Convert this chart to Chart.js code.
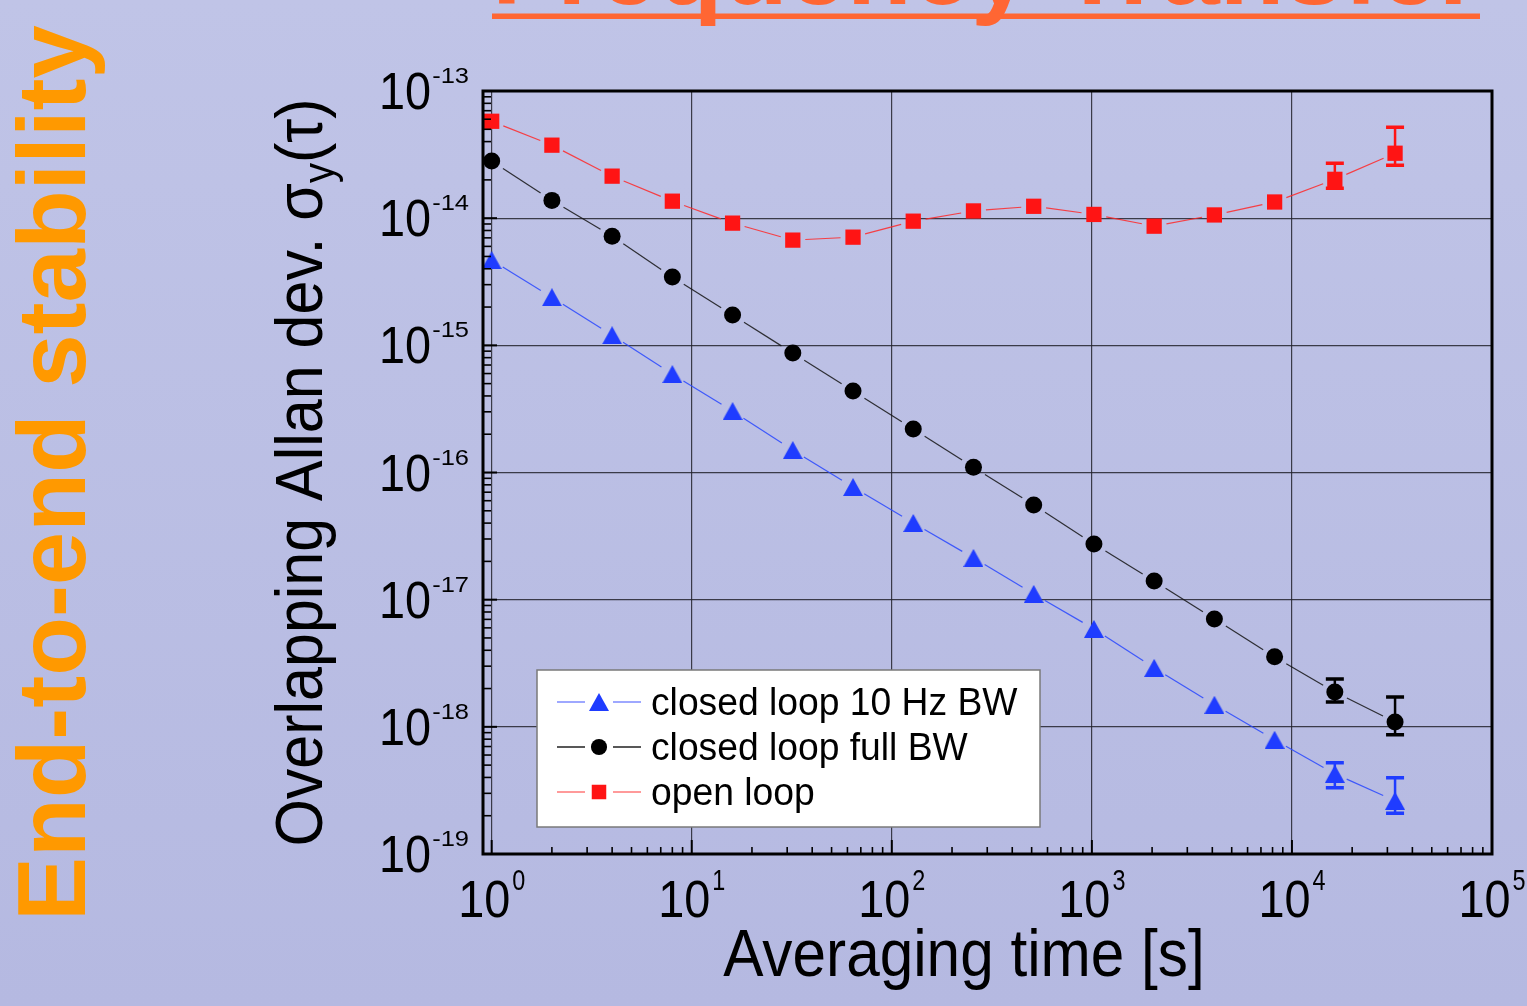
<!DOCTYPE html>
<html>
<head>
<meta charset="utf-8">
<title>Frequency Transfer - End-to-end stability</title>
<script src="https://cdn.jsdelivr.net/npm/chart.js@4.4.1/dist/chart.umd.min.js"></script>
<style>
  html, body { margin: 0; padding: 0; }
  body {
    width: 1527px; height: 1006px; overflow: hidden;
    background: linear-gradient(#c0c4e7, #b5b9e1);
  }
  #chart { position: absolute; left: 0; top: 0; }
</style>
</head>
<body>
<canvas id="chart" width="1527" height="1006"></canvas>
<script>
// averaging times [s]
const tau = [1, 2, 4, 8, 16, 32, 64, 128, 256, 512, 1024, 2048, 4096, 8192, 16384, 32768];

// overlapping Allan deviation
const closed10Hz = [4.68e-15, 2.39e-15, 1.20e-15, 5.94e-16, 3.04e-16, 1.50e-16, 7.69e-17, 4.01e-17,
  2.13e-17, 1.11e-17, 5.89e-18, 2.91e-18, 1.49e-18, 7.91e-19, 4.27e-19, 2.62e-19];
const closedFull = [2.81e-14, 1.38e-14, 7.22e-15, 3.44e-15, 1.73e-15, 8.69e-16, 4.37e-16, 2.20e-16,
  1.10e-16, 5.56e-17, 2.74e-17, 1.40e-17, 7.06e-18, 3.55e-18, 1.88e-18, 1.09e-18];
const openLoop = [5.78e-14, 3.75e-14, 2.14e-14, 1.36e-14, 9.14e-15, 6.72e-15, 7.09e-15, 9.47e-15,
  1.14e-14, 1.24e-14, 1.07e-14, 8.65e-15, 1.06e-14, 1.34e-14, 2.02e-14, 3.24e-14];

// error bars only on the two longest averaging times
const errTau = [16384, 32768];
const closed10HzLow = [3.32e-19, 2.09e-19];
const closed10HzHigh = [5.21e-19, 3.98e-19];
const closedFullLow = [1.57e-18, 8.65e-19];
const closedFullHigh = [2.38e-18, 1.72e-18];
const openLoopLow = [1.72e-14, 2.61e-14];
const openLoopHigh = [2.70e-14, 5.19e-14];

const seriesNames = ['closed loop 10 Hz BW', 'closed loop full BW', 'open loop'];

// tick decades (exponents of ten)
const xDecades = [0, 1, 2, 3, 4, 5];
const yDecades = [-19, -18, -17, -16, -15, -14, -13];

const FONT = '"Liberation Sans", Arial, Helvetica, sans-serif';
Chart.defaults.font.family = FONT;

function pts(ys) {
  return tau.map((t, i) => ({ x: t, y: ys[i] }));
}

// triangle marker centred on its box (Origin style)
function triangleMarker(w, h, color) {
  const c = document.createElement('canvas');
  c.width = w; c.height = h;
  const g = c.getContext('2d');
  g.fillStyle = color;
  g.beginPath();
  g.moveTo(w / 2, 0); g.lineTo(w, h); g.lineTo(0, h);
  g.closePath();
  g.fill();
  return c;
}
const blueTriangle = triangleMarker(20, 18, '#1f3cff');

// text drawn with a horizontal squeeze, like the narrow font of the original
function sText(ctx, str, x, y, size, sx, sy, bold) {
  ctx.save();
  ctx.font = (bold ? 'bold ' : '') + size + 'px ' + FONT;
  ctx.translate(x, y);
  ctx.scale(sx, sy);
  ctx.fillText(str, 0, 0);
  ctx.restore();
}
function sWidth(ctx, str, size, sx, bold) {
  ctx.save();
  ctx.font = (bold ? 'bold ' : '') + size + 'px ' + FONT;
  const w = ctx.measureText(str).width * sx;
  ctx.restore();
  return w;
}

// connecting lines that stop short of the markers, plus error bars
const gapLines = {
  id: 'gapLines',
  beforeDatasetsDraw(chart) {
    const { ctx, scales: { x, y } } = chart;
    chart.data.datasets.forEach(ds => {
      const p = ds.data.map(d => [x.getPixelForValue(d.x), y.getPixelForValue(d.y)]);
      ctx.save();
      ctx.strokeStyle = ds.lineColor;
      ctx.lineWidth = 1.2;
      for (let i = 0; i < p.length - 1; i++) {
        const dx = p[i + 1][0] - p[i][0], dy = p[i + 1][1] - p[i][1];
        const d = Math.hypot(dx, dy);
        if (d < 2 * ds.gap) continue;
        const ux = dx / d, uy = dy / d;
        ctx.beginPath();
        ctx.moveTo(p[i][0] + ux * ds.gap, p[i][1] + uy * ds.gap);
        ctx.lineTo(p[i + 1][0] - ux * ds.gap, p[i + 1][1] - uy * ds.gap);
        ctx.stroke();
      }
      ctx.strokeStyle = ds.markColor;
      ds.errTau.forEach((t, i) => {
        const px = x.getPixelForValue(t);
        const lo = y.getPixelForValue(ds.errLow[i]);
        const hi = y.getPixelForValue(ds.errHigh[i]);
        ctx.lineWidth = 2.5;
        ctx.beginPath(); ctx.moveTo(px, lo); ctx.lineTo(px, hi); ctx.stroke();
        ctx.lineWidth = 3.5;
        ctx.beginPath();
        ctx.moveTo(px - 9, lo); ctx.lineTo(px + 9, lo);
        ctx.moveTo(px - 9, hi); ctx.lineTo(px + 9, hi);
        ctx.stroke();
      });
      ctx.restore();
    });
  }
};

const decorations = {
  id: 'decorations',
  afterDraw(chart) {
    const { ctx, chartArea: a, scales: { x, y } } = chart;
    ctx.save();

    // inward ticks on bottom and left axes
    ctx.strokeStyle = '#000';
    for (let e = xDecades[0]; e <= xDecades[xDecades.length - 1]; e++) {
      for (let m = 1; m <= 9; m++) {
        const v = m * Math.pow(10, e);
        if (v < x.min || v > x.max) continue;
        const px = x.getPixelForValue(v);
        ctx.lineWidth = m === 1 ? 2 : 1.6;
        ctx.beginPath();
        ctx.moveTo(px, a.bottom);
        ctx.lineTo(px, a.bottom - (m === 1 ? 14 : 7));
        ctx.stroke();
      }
    }
    for (let e = yDecades[0]; e <= yDecades[yDecades.length - 1]; e++) {
      for (let m = 1; m <= 9; m++) {
        const v = m * Math.pow(10, e);
        if (v < y.min * 0.999 || v > y.max * 1.001) continue;
        const py = y.getPixelForValue(v);
        ctx.lineWidth = m === 1 ? 2 : 1.6;
        ctx.beginPath();
        ctx.moveTo(a.left, py);
        ctx.lineTo(a.left + (m === 1 ? 14 : 8), py);
        ctx.stroke();
      }
    }

    // frame
    ctx.lineWidth = 3;
    ctx.strokeRect(a.left, a.top, a.right - a.left, a.bottom - a.top);

    // tick labels 10^n
    ctx.fillStyle = '#000';
    yDecades.forEach(e => {
      const py = y.getPixelForValue(Math.pow(10, e));
      const ex = String(e);
      const wEx = sWidth(ctx, ex, 30, 0.85);
      const w10 = sWidth(ctx, '10', 52, 0.9);
      const right = a.left - 14;
      sText(ctx, ex, right - wEx, py - 8, 30, 0.85, 0.72);
      sText(ctx, '10', right - wEx - w10 - 1, py + 18, 52, 0.9, 1);
    });
    xDecades.forEach(e => {
      const px = x.getPixelForValue(Math.pow(10, e));
      const ex = String(e);
      const wEx = sWidth(ctx, ex, 30, 0.78);
      const w10 = sWidth(ctx, '10', 52, 0.9);
      const left = px - (w10 + wEx + 2) / 2;
      sText(ctx, '10', left, a.bottom + 63, 52, 0.9, 1);
      sText(ctx, ex, left + w10 + 2, a.bottom + 36, 30, 0.78, 1);
    });

    // axis titles
    const xt = 'Averaging time [s]';
    sText(ctx, xt, 964 - sWidth(ctx, xt, 67, 0.9) / 2, a.bottom + 122, 67, 0.9, 1);

    ctx.save();
    ctx.translate(322, (a.top + a.bottom) / 2);
    ctx.rotate(-Math.PI / 2);
    ctx.scale(0.91, 1);
    const t1 = 'Overlapping Allan dev. \u03c3', t2 = 'y', t3 = '(\u03c4)';
    ctx.font = '67px ' + FONT;
    const w1 = ctx.measureText(t1).width, w3 = ctx.measureText(t3).width;
    ctx.font = '44px ' + FONT;
    const w2 = ctx.measureText(t2).width;
    const sx = -(w1 + w2 + w3) / 2;
    ctx.font = '67px ' + FONT;
    ctx.fillText(t1, sx, 0);
    ctx.font = '44px ' + FONT;
    ctx.fillText(t2, sx + w1, 12);
    ctx.font = '67px ' + FONT;
    ctx.fillText(t3, sx + w1 + w2, 0);
    ctx.restore();

    // legend
    const lg = { left: 537, top: 670, right: 1040, bottom: 827 };
    ctx.fillStyle = '#fff';
    ctx.fillRect(lg.left, lg.top, lg.right - lg.left, lg.bottom - lg.top);
    ctx.strokeStyle = '#7a7a7a';
    ctx.lineWidth = 1.5;
    ctx.strokeRect(lg.left, lg.top, lg.right - lg.left, lg.bottom - lg.top);
    chart.data.datasets.forEach((ds, i) => {
      const cy = 702 + i * 45;
      ctx.strokeStyle = ds.legendLine;
      ctx.lineWidth = 1.4;
      ctx.beginPath();
      ctx.moveTo(557, cy); ctx.lineTo(585, cy);
      ctx.moveTo(613, cy); ctx.lineTo(641, cy);
      ctx.stroke();
      ctx.fillStyle = ds.markColor;
      Chart.helpers.drawPoint(ctx, {
        pointStyle: ds.pointStyle, radius: ds.pointRadius * 0.95, rotation: 0, borderWidth: 0
      }, 599, cy);
      ctx.fillStyle = '#000';
      sText(ctx, ds.label, 651, cy + 13, 38, 0.98, 1);
    });

    // slide title, mostly above the visible area
    ctx.fillStyle = '#ff6633';
    const title = 'Frequency Transfer';
    const fs = 100 * 988 / sWidth(ctx, title, 100, 1, true);
    sText(ctx, title, 492, 4, fs, 1, 1, true);
    ctx.fillRect(492, 13.5, 988, 5.5);

    // vertical slide heading
    ctx.fillStyle = '#ff9900';
    ctx.save();
    ctx.translate(85, 921);
    ctx.rotate(-Math.PI / 2);
    ctx.font = 'bold 96px ' + FONT;
    ctx.fillText('End-to-end stability', 0, 0);
    ctx.restore();

    ctx.restore();
  }
};

const majorGrid = 'rgba(35,35,45,0.85)';

new Chart(document.getElementById('chart'), {
  type: 'line',
  data: {
    datasets: [
      {
        label: seriesNames[0], data: pts(closed10Hz), showLine: false,
        pointStyle: blueTriangle, pointRadius: 11, pointHoverRadius: 11,
        pointBackgroundColor: '#1f3cff', pointBorderWidth: 0, markColor: '#1f3cff',
        lineColor: 'rgba(40,70,255,0.85)', legendLine: '#7f8cff', gap: 13,
        errTau: errTau, errLow: closed10HzLow, errHigh: closed10HzHigh
      },
      {
        label: seriesNames[1], data: pts(closedFull), showLine: false,
        pointStyle: 'circle', pointRadius: 8.5, pointHoverRadius: 8.5,
        pointBackgroundColor: '#000000', pointBorderWidth: 0, markColor: '#000000',
        lineColor: 'rgba(20,20,20,0.85)', legendLine: '#222', gap: 13.5,
        errTau: errTau, errLow: closedFullLow, errHigh: closedFullHigh
      },
      {
        label: seriesNames[2], data: pts(openLoop), showLine: false,
        pointStyle: 'rect', pointRadius: 10.8, pointHoverRadius: 10.8,
        pointBackgroundColor: '#ff1414', pointBorderWidth: 0, markColor: '#ff1414',
        lineColor: 'rgba(255,40,40,0.85)', legendLine: '#ff7a7a', gap: 12.5,
        errTau: errTau, errLow: openLoopLow, errHigh: openLoopHigh
      }
    ]
  },
  options: {
    responsive: false,
    animation: false,
    events: [],
    layout: { padding: { left: 483, right: 35, top: 91, bottom: 152 } },
    plugins: { legend: { display: false }, tooltip: { enabled: false } },
    scales: {
      x: {
        type: 'logarithmic', min: 0.905, max: 1e5,
        ticks: { display: false },
        grid: { color: majorGrid, lineWidth: 1.2, drawTicks: false },
        border: { display: false },
        afterBuildTicks: s => { s.ticks = xDecades.map(e => ({ value: Math.pow(10, e) })); },
        afterFit: s => { s.height = 0; }
      },
      y: {
        type: 'logarithmic', min: 1e-19, max: 1e-13,
        ticks: { display: false },
        grid: { color: majorGrid, lineWidth: 1.2, drawTicks: false },
        border: { display: false },
        afterBuildTicks: s => { s.ticks = yDecades.map(e => ({ value: Math.pow(10, e) })); },
        afterFit: s => { s.width = 0; }
      }
    }
  },
  plugins: [gapLines, decorations]
});
</script>
</body>
</html>
